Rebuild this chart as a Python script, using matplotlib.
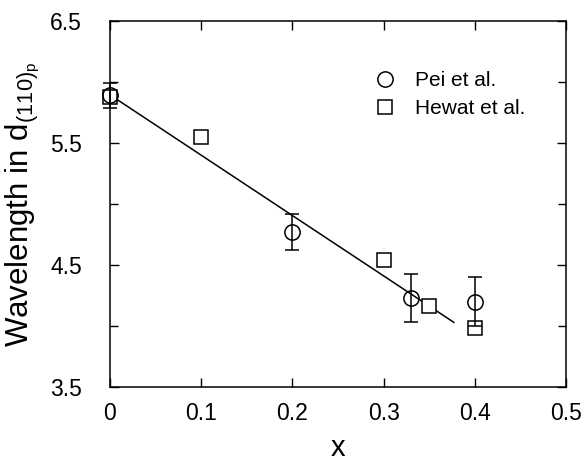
import matplotlib.pyplot as plt
from matplotlib.lines import Line2D
from matplotlib.ticker import MultipleLocator

plt.rcParams['font.family'] = ['Liberation Sans', 'DejaVu Sans']
plt.rcParams['mathtext.default'] = 'regular'

# Pei et al. (with error bars)
pei_x = [0.0, 0.2, 0.33, 0.4]
pei_y = [5.89, 4.77, 4.23, 4.2]
pei_err = [0.1, 0.15, 0.2, 0.2]

# Hewat et al.
hewat_x = [0.0, 0.1, 0.3, 0.35, 0.4]
hewat_y = [5.88, 5.55, 4.54, 4.16, 3.98]

# fitted line end points
fit_x = [0.005, 0.377]
fit_y = [5.87, 4.03]

fig = plt.figure(figsize=(5.86, 4.62), dpi=100)
ax = fig.add_axes([110 / 586, 1 - 387 / 462, 456 / 586, 366 / 462])

ax.plot(fit_x, fit_y, color='black', lw=1.1, zorder=1)
ax.plot(hewat_x, hewat_y, 's', ms=10, mfc='white', mec='black', mew=1.1,
        zorder=2, clip_on=False)
eb = ax.errorbar(pei_x, pei_y, yerr=pei_err, fmt='o', ms=11, mfc='none', mec='black',
                 mew=1.1, ecolor='black', elinewidth=1.1, capsize=5, capthick=1.1,
                 zorder=3)
for art in eb.lines[0:1] + eb.lines[1] + eb.lines[2]:
    art.set_clip_on(False)

ax.set_xlim(0, 0.5)
ax.set_ylim(3.5, 6.5)
ax.set_xticks([0, 0.1, 0.2, 0.3, 0.4, 0.5])
ax.set_xticklabels(['0', '0.1', '0.2', '0.3', '0.4', '0.5'])
ax.set_yticks([3.5, 4.5, 5.5, 6.5])
ax.yaxis.set_minor_locator(MultipleLocator(0.5))
ax.tick_params(which='both', direction='in', top=True, right=True,
               labelsize=16.5, width=1)
ax.tick_params(axis='x', pad=11)
ax.tick_params(axis='y', pad=20)
ax.tick_params(which='major', length=6.5)
ax.tick_params(which='minor', length=5.5)
for s in ax.spines.values():
    s.set_linewidth(1.1)

ax.set_xlabel('x', fontsize=21, labelpad=6)
ax.set_ylabel(r'Wavelength in d$_{(110)_{p}}$', fontsize=22.5, labelpad=6)

handles = [
    Line2D([], [], ls='none', marker='o', ms=11, mfc='none', mec='black', mew=1.1),
    Line2D([], [], ls='none', marker='s', ms=10, mfc='none', mec='black', mew=1.1),
]
ax.legend(handles, ['Pei et al.', 'Hewat et al.'], loc='upper left',
          bbox_to_anchor=(0.54, 0.915), frameon=False, fontsize=15,
          handlelength=1.0, handletextpad=0.9, labelspacing=0.45)

fig.savefig('out.png', dpi=100)
